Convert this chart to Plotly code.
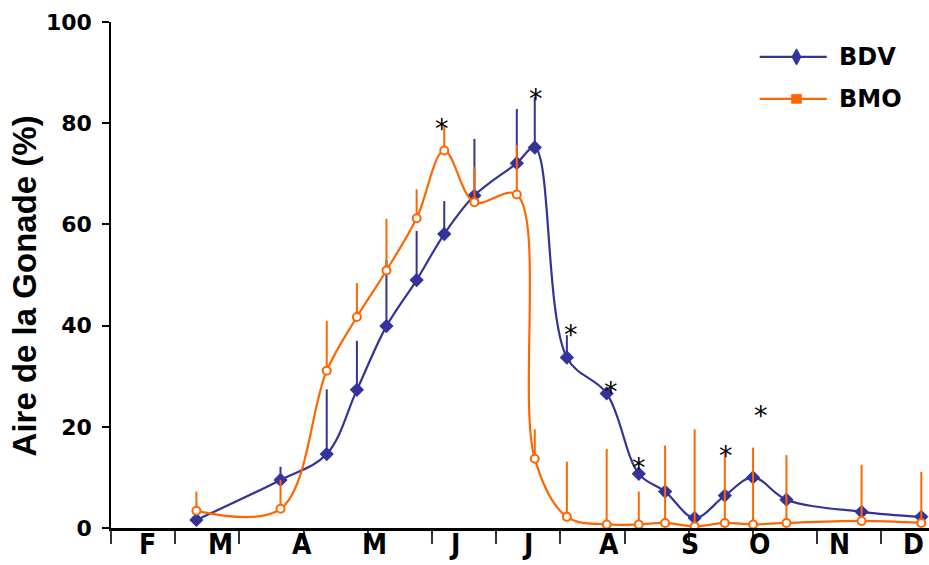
import plotly.graph_objects as go

# Sampling dates, in months from the start of the axis (tick k = month boundary k)
dates = [1.33, 2.64, 3.36, 3.83, 4.29, 4.76, 5.19, 5.66, 6.32, 6.60,
         7.10, 7.72, 8.22, 8.63, 9.09, 9.56, 10.00, 10.52, 11.69, 12.62]

# Gonad area (%) and upper error bars
bdv = [1.6, 9.5, 14.6, 27.3, 39.9, 49.0, 58.1, 65.7, 72.1, 75.2,
       33.7, 26.6, 10.7, 7.2, 2.0, 6.4, 10.0, 5.6, 3.2, 2.2]
bdv_err = [0.0, 2.6, 12.8, 9.7, 13.1, 9.7, 6.5, 11.2, 10.7, 10.0,
           4.4, 0.0, 0.0, 0.0, 0.0, 0.0, 0.0, 0.0, 0.0, 0.0]
bmo = [3.4, 3.8, 31.1, 41.7, 50.9, 61.2, 74.6, 64.4, 65.9, 13.7,
       2.2, 0.7, 0.7, 1.0, 0.3, 1.0, 0.7, 1.0, 1.4, 1.0]
bmo_err = [3.8, 5.7, 9.8, 6.7, 10.2, 5.7, 5.0, 7.0, 9.8, 5.8,
           10.9, 14.9, 6.5, 15.3, 19.2, 13.8, 15.2, 13.4, 11.1, 10.1]

# Significance marks (x, y)
star_x = [5.16, 6.62, 7.16, 7.79, 8.23, 9.58, 10.13]
star_y = [80.3, 86.2, 39.6, 28.4, 13.4, 15.7, 23.6]

# Month labels and their positions
month_labels = ["F", "M", "A", "M", "J", "J", "A", "S", "O", "N", "D"]
month_pos = [0.57, 1.70, 2.98, 4.10, 5.35, 6.49, 7.76, 9.02, 10.10, 11.35, 12.50]
month_ticks = list(range(0, 14))

BLUE = "#333399"
ORANGE = "#FF6600"
X_RANGE = [0, 12.74]

fig = go.Figure()

fig.add_trace(go.Scatter(
    x=dates, y=bdv, name="BDV", mode="lines+markers",
    line=dict(color=BLUE, width=2.2, shape="spline", smoothing=1),
    marker=dict(symbol="diamond", size=11, color=BLUE),
    error_y=dict(type="data", symmetric=False, array=bdv_err,
                 arrayminus=[0] * len(bdv_err), color=BLUE,
                 thickness=2, width=0),
    showlegend=False,
))

fig.add_trace(go.Scatter(
    x=dates, y=bmo, name="BMO", mode="lines+markers",
    line=dict(color=ORANGE, width=2.2, shape="spline", smoothing=1),
    marker=dict(symbol="circle", size=8, color="white",
                line=dict(color=ORANGE, width=2)),
    error_y=dict(type="data", symmetric=False, array=bmo_err,
                 arrayminus=[0] * len(bmo_err), color=ORANGE,
                 thickness=2, width=0),
    showlegend=False,
))

# Asterisks
for sx, sy in zip(star_x, star_y):
    fig.add_annotation(x=sx, y=sy, text="*", showarrow=False,
                       font=dict(family="DejaVu Sans", size=27, color="black"),
                       yshift=-7)

# Month labels under the axis
for mx, ml in zip(month_pos, month_labels):
    fig.add_annotation(x=mx, y=0, yref="paper", text=ml, showarrow=False,
                       xanchor="center", yanchor="top", yshift=1, borderpad=0,
                       font=dict(family="Liberation Sans Narrow, DejaVu Sans Condensed, Arial Narrow",
                                 size=28, color="black", weight="bold"))

# Y-axis title
fig.add_annotation(xref="paper", yref="paper", x=-0.106, y=0.478,
                   text="Aire de la Gonade (%)", textangle=-90, showarrow=False,
                   xanchor="center", yanchor="middle",
                   font=dict(family="Liberation Sans, Arial", size=33,
                             color="black", weight="bold"))

# Hand-drawn legend (long line keys)
legend_items = [("BDV", BLUE, 0.931), ("BMO", ORANGE, 0.848)]
for label, col, ly in legend_items:
    fig.add_shape(type="line", xref="paper", yref="paper",
                  x0=0.793, x1=0.875, y0=ly, y1=ly,
                  line=dict(color=col, width=2.2))
    fig.add_annotation(xref="paper", yref="paper", x=0.888, y=ly,
                       text=label, showarrow=False, xanchor="left",
                       yanchor="middle",
                       font=dict(family="DejaVu Sans", size=24, color="black",
                                 weight="bold"))
# legend symbols
cx = 0.838
fig.add_shape(type="path", xref="paper", yref="paper",
              path=f"M {cx-0.0055},{0.931} L {cx},{0.931+0.016} L {cx+0.0055},{0.931} L {cx},{0.931-0.016} Z",
              fillcolor=BLUE, line=dict(color=BLUE, width=1))
fig.add_shape(type="rect", xref="paper", yref="paper",
              x0=cx - 0.0065, x1=cx + 0.0065, y0=0.848 - 0.0095, y1=0.848 + 0.0095,
              fillcolor=ORANGE, line=dict(color=ORANGE, width=0))

fig.update_layout(
    width=929, height=565,
    margin=dict(l=111, r=0, t=22, b=37, autoexpand=False),
    paper_bgcolor="white", plot_bgcolor="white",
    showlegend=False,
    xaxis=dict(
        range=X_RANGE, showgrid=False, zeroline=False, automargin=False,
        showline=True, linecolor="black", linewidth=3,
        tickmode="array", tickvals=month_ticks, showticklabels=False,
        ticks="outside", ticklen=13, tickwidth=1.5, tickcolor="#333333",
    ),
    yaxis=dict(
        range=[0, 100], showgrid=False, zeroline=False, automargin=False,
        showline=True, linecolor="black", linewidth=1.5,
        tickmode="array", tickvals=[0, 20, 40, 60, 80, 100],
        ticks="outside", ticklen=7, tickwidth=1.5, tickcolor="black",
        tickfont=dict(family="DejaVu Sans", size=22, color="black", weight="bold"),
        ticklabelstandoff=6,
    ),
)

fig.write_html("out.html")
